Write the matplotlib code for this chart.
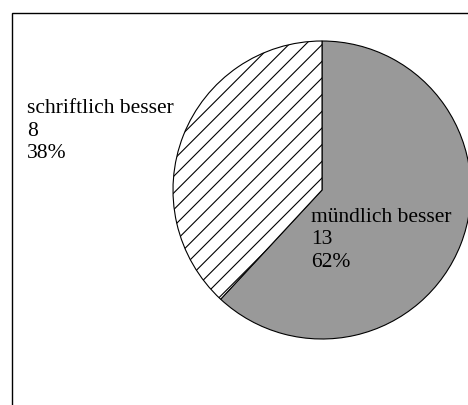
import matplotlib.pyplot as plt
from matplotlib.patches import Rectangle

# -----------------------------
# Data
# -----------------------------
labels = ["mündlich besser", "schriftlich besser"]
counts = [13, 8]

total = sum(counts)
percents = [c / total * 100 for c in counts]

# -----------------------------
# Plot
# -----------------------------
plt.rcParams['font.family'] = ['Liberation Serif', 'DejaVu Serif']
plt.rcParams['hatch.linewidth'] = 0.8

W, H = 468, 405
fig = plt.figure(figsize=(W / 100, H / 100), dpi=100)
ax = fig.add_axes([0, 0, 1, 1])

# outer frame of the chart area
ax.add_patch(Rectangle((11.5, -20), 480, H - 12.5 + 20, fill=False,
                       edgecolor='black', linewidth=1.0))

wedges, _ = ax.pie(counts, center=(322, H - 190), radius=149, startangle=90,
                   counterclock=False, colors=['#999999', 'white'],
                   wedgeprops=dict(edgecolor='black', linewidth=0.8))
wedges[1].set_hatch('//')

ax.set_xlim(0, W)
ax.set_ylim(0, H)
ax.set_aspect('equal')
ax.axis('off')

label_pos = [(311, H - 208), (27, H - 99)]
for lab, c, p, (x, y) in zip(labels, counts, percents, label_pos):
    ax.text(x, y, f"{lab}\n{c}\n{p:.0f}%", fontsize=15.5, ha='left', va='top',
            linespacing=1.25)

fig.savefig("out.png", dpi=100)
